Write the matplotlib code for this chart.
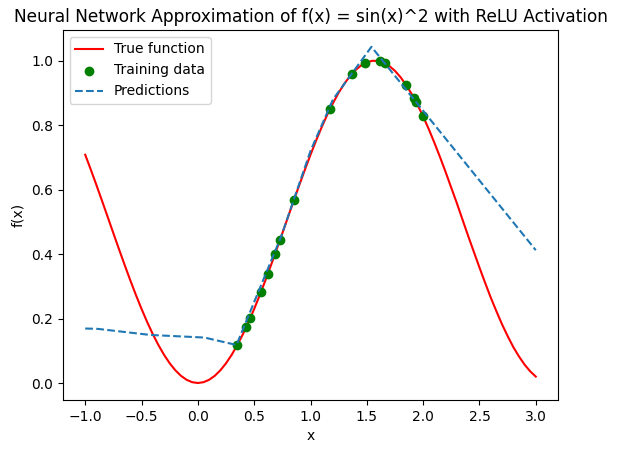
import matplotlib
matplotlib.use("Agg")
import matplotlib.pyplot as plt
import numpy as np

# true function sampled every 0.05 on [-1, 3]
x_true = np.round(np.arange(-1.0, 3.001, 0.05), 2)
y_true = [0.7081, 0.6616, 0.6136, 0.5645, 0.5146, 0.4646, 0.4150, 0.3663, 0.3188, 0.2732,
          0.2298, 0.1892, 0.1516, 0.1176, 0.0873, 0.0612, 0.0395, 0.0223, 0.0100, 0.0025,
          0.0000,
          0.0025, 0.0100, 0.0223, 0.0395, 0.0612, 0.0873, 0.1176, 0.1516, 0.1892, 0.2298,
          0.2732, 0.3188, 0.3663, 0.4150, 0.4646, 0.5146, 0.5645, 0.6136, 0.6616, 0.7081,
          0.7524, 0.7943, 0.8332, 0.8687, 0.9006, 0.9284, 0.9520, 0.9711, 0.9854, 0.9950,
          0.9996, 0.9991, 0.9938, 0.9834, 0.9683, 0.9484, 0.9241, 0.8955, 0.8630, 0.8268,
          0.7875, 0.7451, 0.7006, 0.6540, 0.6054, 0.5571, 0.5062, 0.4558, 0.4068, 0.3582,
          0.3110, 0.2652, 0.2228, 0.1823, 0.1457, 0.1117, 0.0827, 0.0572, 0.0363, 0.0199]

# training points
x_train = [0.35, 0.43, 0.465, 0.56, 0.62, 0.685, 0.73, 0.855, 1.175, 1.365,
           1.485, 1.615, 1.66, 1.85, 1.92, 1.935, 2.0]
y_train = [0.1176, 0.1738, 0.2012, 0.2822, 0.3376, 0.4003, 0.4448, 0.5691, 0.8514, 0.9582,
           0.9926, 0.9980, 0.9920, 0.9241, 0.8829, 0.8731, 0.8268]

# network predictions (piecewise linear, ReLU)
x_pred = [-1.0, -0.89, -0.42, 0.06, 0.12, 0.343, 0.74, 1.0, 1.2, 1.541, 3.0]
y_pred = [0.169, 0.168, 0.149, 0.141, 0.136, 0.118, 0.455, 0.72, 0.88, 1.043, 0.412]

fig = plt.figure(figsize=(6.17, 4.53), dpi=100)
fig.subplots_adjust(left=0.1016, right=0.9049, top=0.9338, bottom=0.1174)
plt.plot(x_true, y_true, color="red", label="True function")
plt.scatter(x_train, y_train, color="green", label="Training data", zorder=2)
plt.plot(x_pred, y_pred, "--", color="C0", label="Predictions", zorder=3)
plt.xlabel("x")
plt.ylabel("f(x)")
plt.title("Neural Network Approximation of f(x) = sin(x)^2 with ReLU Activation", fontsize=12.25)
plt.legend(loc="upper left")
fig.savefig("out.png", dpi=100)
